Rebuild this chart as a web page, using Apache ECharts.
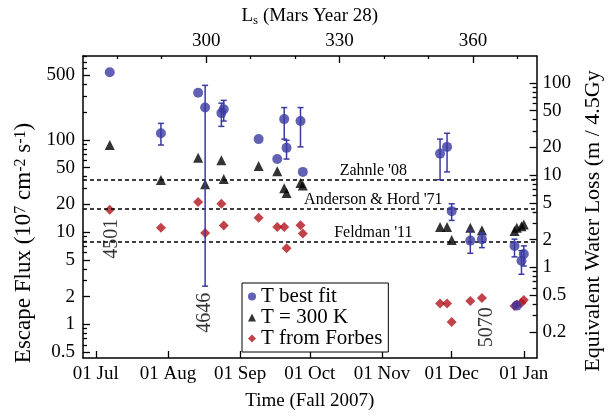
<!DOCTYPE html>
<html><head><meta charset="utf-8">
<script src="https://cdn.jsdelivr.net/npm/echarts@6/dist/echarts.min.js"></script>
<style>html,body{margin:0;padding:0;background:#fff}#c{width:612px;height:416px}</style>
</head><body><div id="c"></div>
<script>
// ---- data ----
const obsDates = ['2007-07-07','2007-07-29','2007-08-14','2007-08-17','2007-08-24','2007-08-25','2007-09-09','2007-09-17','2007-09-20','2007-09-21','2007-09-27','2007-09-28','2007-11-26','2007-11-29','2007-12-01','2007-12-09','2007-12-14','2007-12-28','2007-12-29','2007-12-31','2008-01-01'];
const bestFit   = [540, 118, 324, 224, 195, 215, 102, 62, 168, 82, 160, 45, 71, 84, 16.9, 8.1, 8.4, 7.1, 1.6, 4.9, 5.8];
const bestFitLo = [null, 88, null, 2.6, 140, 160, null, null, 102, 62, 84, null, 37, 45, 13.4, 5.9, 6.8, 5.4, null, 3.5, 4.3];
const bestFitHi = [null, 151, null, 390, 250, 268, null, null, 224, 99, 224, null, 102, 118, 20.3, 10.5, 9.8, 8.4, null, 6.3, 7.1];
const t300K     = [88, 36.7, 64, 33, 60, 37.6, 52, 45.6, 30, 26.5, 34, 32, 11.4, 11.4, 8.2, 11.2, 10.5, 10.3, 11.2, 11.6, 12.1];
const forbes    = [17.5, 11.2, 21.2, 9.8, 20.3, 11.8, 14.3, 11.4, 11.4, 6.7, 11.9, 9.7, 1.69, 1.69, 1.06, 1.79, 1.94, 1.58, 1.65, 1.72, 1.84];

const refLineNames  = ["Zahnle '08", "Anderson & Hord '71", "Feldman '11"];
const refLineValues = [37, 17.6, 8.0];

const orbitNames  = ['4501', '4646', '5070'];
const orbitDates  = ['2007-07-08', '2007-08-17', '2007-12-16'];
const orbitValues = [8.5, 1.34, 0.93];

const monthTicks = ['2007-07-01','2007-08-01','2007-09-01','2007-10-01','2007-11-01','2007-12-01','2008-01-01'];
const monthNames = ['Jan','Feb','Mar','Apr','May','Jun','Jul','Aug','Sep','Oct','Nov','Dec'];
const fluxTickLabels  = [0.5, 1, 2, 5, 10, 20, 50, 100, 500];
const fluxMinorTicks  = [0.6, 0.7, 0.8, 0.9, 3, 4, 6, 7, 8, 9, 30, 40, 60, 70, 80, 90, 200, 300, 400, 600, 700, 800];
const waterTickLabels = [0.2, 0.5, 1, 2, 5, 10, 20, 50, 100];
const waterMinorTicks = [0.3, 0.4, 0.6, 0.7, 0.8, 0.9, 3, 4, 6, 7, 8, 9, 30, 40, 60, 70, 80, 90];
const lsTickLabels = [300, 330, 360];
const lsMinorTicks = [280, 290, 310, 320, 340, 350, 370];

const fluxMin = 0.433, fluxMax = 811;   // escape flux axis range
const fluxPerWater = 4.15;              // flux / equivalent water loss
const lsMin = 272.3, lsMax = 374.3;     // top axis range
const timeMin = '2007-06-25 12', timeMax = '2008-01-06 12';

// ---- helpers ----
const FONT = 'Liberation Serif';
const L = Math.log10;
function ts(s) {
  const [d, t] = s.split(' ');
  const [y, m, dd] = d.split('-').map(Number);
  const h = t ? Number(t) : 0;
  return Date.UTC(y, m - 1, dd, h);
}
const fmtLog = v => String(parseFloat(Math.pow(10, v).toPrecision(4)));
const fmtMonth = v => '01 ' + monthNames[new Date(v).getUTCMonth()];
const BLUE = '#3a3aa2', RED = '#b3131b';

const frameLine = {show: true, onZero: false, lineStyle: {color: '#000', width: 1.5}};
const tickStyle = {color: '#000', width: 1.3};
const lblBase = {color: '#000', fontSize: 19, fontFamily: FONT};

const errData = [];
obsDates.forEach((d, i) => { if (bestFitLo[i] != null) errData.push([ts(d), L(bestFitLo[i]), L(bestFitHi[i])]); });

const chart = echarts.init(document.getElementById('c'), null, {renderer: 'canvas'});
chart.setOption({
  animation: false,
  backgroundColor: '#fff',
  grid: {left: 83, right: 70, top: 56, bottom: 54, containLabel: false},
  legend: {
    data: ['T best fit', 'T = 300 K', 'T from Forbes'],
    orient: 'vertical', left: 242, top: 283,
    padding: [3, 6, 3, 6], itemGap: 0, itemWidth: 8, itemHeight: 8,
    borderColor: '#000', borderWidth: 1, backgroundColor: '#fff',
    selectedMode: false,
    textStyle: {color: '#000', fontSize: 21, fontFamily: FONT, lineHeight: 21}
  },
  xAxis: [
    {
      type: 'value', position: 'bottom', min: ts(timeMin), max: ts(timeMax),
      axisLine: frameLine,
      axisTick: {show: true, inside: true, length: 7, lineStyle: tickStyle, customValues: monthTicks.map(ts)},
      axisLabel: Object.assign({margin: 7, customValues: monthTicks.map(ts), formatter: fmtMonth}, lblBase),
      splitLine: {show: false},
      name: 'Time (Fall 2007)', nameLocation: 'middle', nameGap: 34,
      nameTextStyle: {color: '#000', fontSize: 19, fontFamily: FONT}
    },
    {
      type: 'value', position: 'top', min: lsMin, max: lsMax,
      axisLine: frameLine,
      axisTick: {show: true, inside: true, length: 7, lineStyle: tickStyle, customValues: lsTickLabels},
      axisLabel: Object.assign({margin: 5, customValues: lsTickLabels}, lblBase),
      splitLine: {show: false},
      name: 'L{sub|s} (Mars Year 28)', nameLocation: 'middle', nameGap: 29,
      nameTextStyle: {color: '#000', fontSize: 19, fontFamily: FONT,
        rich: {sub: {fontSize: 13, fontFamily: FONT, color: '#000', verticalAlign: 'bottom', padding: [8, 0, 0, 0]}}}
    },
    {
      type: 'value', position: 'top', min: lsMin, max: lsMax,
      axisLine: {show: false, onZero: false},
      axisTick: {show: true, inside: true, length: 3, lineStyle: tickStyle, customValues: lsMinorTicks},
      axisLabel: {show: false}, splitLine: {show: false}
    }
  ],
  yAxis: [
    {
      type: 'value', position: 'left', min: L(fluxMin), max: L(fluxMax),
      axisLine: frameLine,
      axisTick: {show: true, inside: true, length: 7, lineStyle: tickStyle, customValues: fluxTickLabels.map(L)},
      axisLabel: Object.assign({margin: 8, customValues: fluxTickLabels.map(L), formatter: fmtLog}, lblBase),
      splitLine: {show: false},
      name: 'Escape Flux (10{sup|7} cm{sup|-2} s{sup|-1})', nameLocation: 'middle', nameRotate: 90, nameGap: 44,
      nameTextStyle: {color: '#000', fontSize: 23, fontFamily: FONT, padding: [0, 72, 0, 0],
        rich: {sup: {fontSize: 16, fontFamily: FONT, color: '#000', verticalAlign: 'top'}}}
    },
    {
      type: 'value', position: 'left', min: L(fluxMin), max: L(fluxMax),
      axisLine: {show: false, onZero: false},
      axisTick: {show: true, inside: true, length: 4, lineStyle: tickStyle, customValues: fluxMinorTicks.map(L)},
      axisLabel: {show: false}, splitLine: {show: false}
    },
    {
      type: 'value', position: 'right', min: L(fluxMin / fluxPerWater), max: L(fluxMax / fluxPerWater),
      axisLine: frameLine,
      axisTick: {show: true, inside: true, length: 7, lineStyle: tickStyle, customValues: waterTickLabels.map(L)},
      axisLabel: Object.assign({margin: 6, customValues: waterTickLabels.map(L), formatter: fmtLog}, lblBase),
      splitLine: {show: false},
      name: 'Equivalent Water Loss (m / 4.5Gy', nameLocation: 'middle', nameRotate: 90, nameGap: 45,
      nameTextStyle: {color: '#000', fontSize: 22, fontFamily: FONT, padding: [0, 28, 0, 0]}
    },
    {
      type: 'value', position: 'right', min: L(fluxMin / fluxPerWater), max: L(fluxMax / fluxPerWater),
      axisLine: {show: false, onZero: false},
      axisTick: {show: true, inside: true, length: 4, lineStyle: tickStyle, customValues: waterMinorTicks.map(L)},
      axisLabel: {show: false}, splitLine: {show: false}
    }
  ],
  series: [
    {
      name: 'T from Forbes', type: 'scatter', xAxisIndex: 0, yAxisIndex: 0,
      symbol: 'diamond', symbolSize: 10, itemStyle: {color: RED}, z: 3,
      data: obsDates.map((d, i) => [ts(d), L(forbes[i])]),
      markLine: {
        silent: true, symbol: ['none', 'none'], animation: false,
        lineStyle: {color: '#000', type: [4, 3], width: 1.5},
        label: {show: true, position: 'middle', distance: 1, color: '#000', fontSize: 16, fontFamily: FONT,
          padding: [0, 0, 0, 127], formatter: p => p.name},
        data: refLineNames.map((n, i) => ({name: n, yAxis: L(refLineValues[i])}))
      }
    },
    {
      name: 'T = 300 K', type: 'scatter', xAxisIndex: 0, yAxisIndex: 0,
      symbol: 'triangle', symbolSize: 10, itemStyle: {color: '#000'}, z: 4,
      data: obsDates.map((d, i) => [ts(d), L(t300K[i])])
    },
    {
      name: 'errorbars', type: 'custom', xAxisIndex: 0, yAxisIndex: 0, z: 5,
      encode: {x: 0, y: [1, 2]},
      data: errData,
      renderItem: function (params, api) {
        const x = api.value(0);
        const lo = api.coord([x, api.value(1)]);
        const hi = api.coord([x, api.value(2)]);
        const w = 3;
        const st = {stroke: BLUE, lineWidth: 1.5};
        return {type: 'group', children: [
          {type: 'line', shape: {x1: lo[0], y1: lo[1], x2: hi[0], y2: hi[1]}, style: st},
          {type: 'line', shape: {x1: lo[0] - w, y1: lo[1], x2: lo[0] + w, y2: lo[1]}, style: st},
          {type: 'line', shape: {x1: hi[0] - w, y1: hi[1], x2: hi[0] + w, y2: hi[1]}, style: st}
        ]};
      }
    },
    {
      name: 'T best fit', type: 'scatter', xAxisIndex: 0, yAxisIndex: 0,
      symbol: 'circle', symbolSize: 10, itemStyle: {color: BLUE}, z: 6,
      data: obsDates.map((d, i) => [ts(d), L(bestFit[i])])
    },
    {
      name: 'orbits', type: 'scatter', xAxisIndex: 0, yAxisIndex: 0,
      symbolSize: 0, silent: true, z: 7,
      data: orbitNames.map((n, i) => ({name: n, value: [ts(orbitDates[i]), L(orbitValues[i])]})),
      label: {show: true, position: 'inside', rotate: 90, formatter: p => p.name,
        color: '#000', fontSize: 20, fontFamily: FONT}
    }
  ]
});
</script></body></html>
